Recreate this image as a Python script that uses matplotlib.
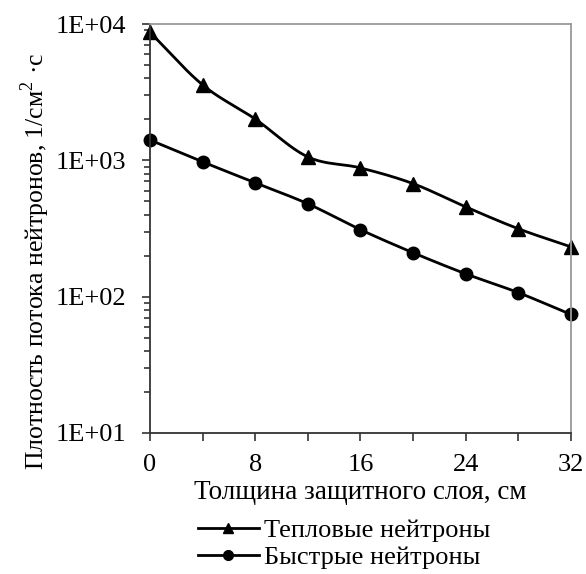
import matplotlib.pyplot as plt
import numpy as np
from matplotlib.ticker import LogLocator, FixedLocator, NullFormatter

plt.rcParams['font.family'] = ['Liberation Serif', 'DejaVu Serif']
plt.rcParams['mathtext.fontset'] = 'custom'
plt.rcParams['mathtext.rm'] = 'Liberation Serif'

# thickness of the shielding layer, cm
thickness = [0, 4, 8, 12, 16, 20, 24, 28, 32]
# neutron flux density, 1/(cm^2*s)
thermal = [8700, 3580, 2010, 1060, 880, 675, 456, 315, 232]
fast = [1410, 975, 684, 480, 310, 210, 147, 107, 74]

x_ticks = [0, 8, 16, 24, 32]
y_ticks = [1e1, 1e2, 1e3, 1e4]
y_labels = ['1E+01', '1E+02', '1E+03', '1E+04']


def smooth(xs, ys, n=20):
    # Catmull-Rom in log space, like Excel's smoothed line
    xs = np.asarray(xs, float)
    ys = np.log10(np.asarray(ys, float))
    px = np.concatenate([[2 * xs[0] - xs[1]], xs, [2 * xs[-1] - xs[-2]]])
    py = np.concatenate([[2 * ys[0] - ys[1]], ys, [2 * ys[-1] - ys[-2]]])
    ox, oy = [], []
    t = np.linspace(0, 1, n, endpoint=False)
    for i in range(1, len(px) - 2):
        for p, o in ((px, ox), (py, oy)):
            p0, p1, p2, p3 = p[i - 1], p[i], p[i + 1], p[i + 2]
            o.extend(0.5 * (2 * p1 + (-p0 + p2) * t
                            + (2 * p0 - 5 * p1 + 4 * p2 - p3) * t ** 2
                            + (-p0 + 3 * p1 - 3 * p2 + p3) * t ** 3))
    ox.append(xs[-1])
    oy.append(ys[-1])
    return np.array(ox), 10 ** np.array(oy)


fig = plt.figure(figsize=(5.86, 5.74), dpi=100)
ax = fig.add_axes([0.256, 0.246, 0.718, 0.712])

for ys, mk, ms, lab in ((thermal, '^', 9.5, 'Тепловые нейтроны'),
                        (fast, 'o', 9, 'Быстрые нейтроны')):
    sx, sy = smooth(thickness, ys)
    ax.plot(sx, sy, color='black', lw=2.0, solid_capstyle='round')
    ax.plot(thickness, ys, ls='none', marker=mk, ms=ms, color='black', clip_on=False)
    ax.plot([], [], color='black', lw=2.0, marker=mk, ms=7, label=lab)

ax.set_yscale('log')
ax.set_xlim(0, 32)
ax.set_ylim(10, 10000)
ax.xaxis.set_major_locator(FixedLocator(x_ticks))
ax.xaxis.set_minor_locator(FixedLocator([4, 12, 20, 28]))
ax.set_yticks(y_ticks)
ax.set_yticklabels(y_labels)
ax.yaxis.set_minor_locator(LogLocator(base=10, subs=np.arange(2, 10)))
ax.yaxis.set_minor_formatter(NullFormatter())

ax.tick_params(axis='both', which='major', labelsize=19, direction='out', color='#333333', width=1.2)
ax.tick_params(axis='x', which='both', length=6, pad=9)
ax.tick_params(axis='x', which='minor', color='#333333', width=1.2)
ax.tick_params(axis='y', which='major', length=6, pad=11)
ax.tick_params(axis='y', which='minor', length=4.5, color='#333333', width=1.2)

for side in ('left', 'bottom'):
    ax.spines[side].set_color('#333333')
    ax.spines[side].set_linewidth(1.3)
for side in ('top', 'right'):
    ax.spines[side].set_color('#999999')
    ax.spines[side].set_linewidth(1.3)

ax.set_xlabel('Толщина защитного слоя, см', fontsize=19.5, labelpad=3)
ax.set_ylabel('Плотность потока нейтронов, 1/см$^{2}$ ·с', fontsize=18.5)
ax.yaxis.set_label_coords(-0.232, 0.42)

fig.legend(loc='upper left', bbox_to_anchor=(0.338, 0.097), frameon=False,
           fontsize=19, handlelength=2.3, handletextpad=0.2, labelspacing=0.15,
           borderpad=0, borderaxespad=0)

fig.savefig('out.png', dpi=100)
